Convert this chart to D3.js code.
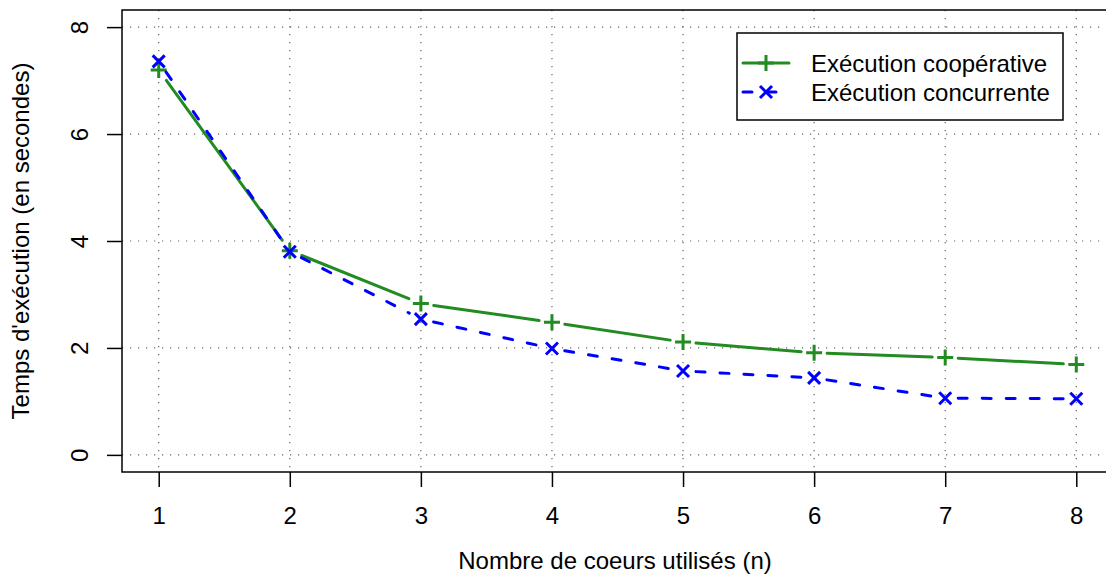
<!DOCTYPE html>
<html>
<head>
<meta charset="utf-8">
<script src="https://cdn.jsdelivr.net/npm/d3@7"></script>
<style>
  body { margin: 0; background: #fff; }
  svg text { font-family: "Liberation Sans", Arial, sans-serif; fill: #000; }
</style>
</head>
<body>
<div id="chart"></div>
<script>
// data
var cores = [1, 2, 3, 4, 5, 6, 7, 8];
var coopTimes = [7.2, 3.82, 2.83, 2.48, 2.11, 1.91, 1.82, 1.69];
var concTimes = [7.36, 3.8, 2.54, 1.99, 1.57, 1.44, 1.06, 1.05];
var xTicks = [1, 2, 3, 4, 5, 6, 7, 8];
var yTicks = [0, 2, 4, 6, 8];
var seriesNames = ["Exécution coopérative", "Exécution concurrente"];

var svgWidth = 1106;
var svgHeight = 588;
var fontSize = "24px";

// plot box (the right edge runs past the picture)
var box = { left: 122, top: 10, right: 1113, bottom: 472 };

var svg = d3.select("#chart")
  .append("svg")
  .attr("width", svgWidth)
  .attr("height", svgHeight);

// scales with R's 4% padding
var xScale = d3.scaleLinear()
  .domain([1 - 0.28, 8 + 0.28])
  .range([box.left, box.right]);

var yScale = d3.scaleLinear()
  .domain([0 - 0.32, 8 + 0.32])
  .range([box.bottom, box.top]);

// dotted grid
var grid = svg.append("g")
  .attr("stroke", "#666")
  .attr("stroke-width", 1.2)
  .attr("stroke-dasharray", "1.2,6.8");

grid.selectAll(".vgrid")
  .data(xTicks)
  .enter()
  .append("line")
  .attr("x1", d => xScale(d))
  .attr("x2", d => xScale(d))
  .attr("y1", box.top)
  .attr("y2", box.bottom);

grid.selectAll(".hgrid")
  .data(yTicks)
  .enter()
  .append("line")
  .attr("x1", box.left)
  .attr("x2", box.right)
  .attr("y1", d => yScale(d))
  .attr("y2", d => yScale(d));

// axes
var xAxis = d3.axisBottom(xScale)
  .tickValues(xTicks)
  .tickSize(15)
  .tickPadding(20)
  .tickFormat(d3.format("d"));

var yAxis = d3.axisLeft(yScale)
  .tickValues(yTicks)
  .tickSize(15)
  .tickFormat(d3.format("d"));

var xAxisG = svg.append("g")
  .attr("transform", `translate(0, ${box.bottom})`)
  .call(xAxis);
xAxisG.select(".domain").remove();
xAxisG.selectAll("line").attr("stroke", "#000").attr("stroke-width", 1.5);
xAxisG.selectAll("text")
  .attr("font-size", fontSize)
  .attr("font-family", "Liberation Sans, Arial, sans-serif");

var yAxisG = svg.append("g")
  .attr("transform", `translate(${box.left}, 0)`)
  .call(yAxis);
yAxisG.select(".domain").remove();
yAxisG.selectAll("line").attr("stroke", "#000").attr("stroke-width", 1.5);
yAxisG.selectAll("text")
  .attr("font-size", fontSize)
  .attr("font-family", "Liberation Sans, Arial, sans-serif")
  .attr("text-anchor", "middle")
  .attr("dy", 0)
  .attr("x", 0)
  .attr("transform", "translate(-34, 0) rotate(-90)");

// box
svg.append("rect")
  .attr("x", box.left)
  .attr("y", box.top)
  .attr("width", box.right - box.left)
  .attr("height", box.bottom - box.top)
  .attr("fill", "none")
  .attr("stroke", "#000")
  .attr("stroke-width", 1.5);

// axis titles
svg.append("text")
  .attr("x", 615)
  .attr("y", 569)
  .attr("text-anchor", "middle")
  .attr("font-size", fontSize)
  .text("Nombre de coeurs utilisés (n)");

svg.append("text")
  .attr("transform", `translate(29, ${(box.top + box.bottom) / 2}) rotate(-90)`)
  .attr("text-anchor", "middle")
  .attr("font-size", fontSize)
  .text("Temps d'exécution (en secondes)");

// lines drawn as in type "b": segments stop short of the points
var gap = 13;
function segments(values) {
  var segs = [];
  for (var i = 0; i < values.length - 1; i++) {
    var x1 = xScale(cores[i]), y1 = yScale(values[i]);
    var x2 = xScale(cores[i + 1]), y2 = yScale(values[i + 1]);
    var len = Math.sqrt((x2 - x1) * (x2 - x1) + (y2 - y1) * (y2 - y1));
    var ux = (x2 - x1) / len, uy = (y2 - y1) / len;
    segs.push({ x1: x1 + ux * gap, y1: y1 + uy * gap, x2: x2 - ux * gap, y2: y2 - uy * gap });
  }
  return segs;
}

function plus(g, cx, cy, color) {
  g.append("path")
    .attr("d", `M${cx - 8},${cy}H${cx + 8}M${cx},${cy - 8}V${cy + 8}`)
    .attr("stroke", color)
    .attr("stroke-width", 3)
    .attr("fill", "none");
}

function cross(g, cx, cy, color) {
  g.append("path")
    .attr("d", `M${cx - 6},${cy - 6}L${cx + 6},${cy + 6}M${cx - 6},${cy + 6}L${cx + 6},${cy - 6}`)
    .attr("stroke", color)
    .attr("stroke-width", 3)
    .attr("fill", "none");
}

// green series
var coopG = svg.append("g");
coopG.selectAll("line")
  .data(segments(coopTimes))
  .enter()
  .append("line")
  .attr("x1", d => d.x1).attr("y1", d => d.y1)
  .attr("x2", d => d.x2).attr("y2", d => d.y2)
  .attr("stroke", "#228B22")
  .attr("stroke-width", 3)
  .attr("stroke-linecap", "round");
coopTimes.forEach(function(v, i) {
  plus(coopG, xScale(cores[i]), yScale(v), "#228B22");
});

// blue series
var concG = svg.append("g");
concG.selectAll("line")
  .data(segments(concTimes))
  .enter()
  .append("line")
  .attr("x1", d => d.x1).attr("y1", d => d.y1)
  .attr("x2", d => d.x2).attr("y2", d => d.y2)
  .attr("stroke", "#0000FF")
  .attr("stroke-width", 3)
  .attr("stroke-linecap", "round")
  .attr("stroke-dasharray", "9,15");
concTimes.forEach(function(v, i) {
  cross(concG, xScale(cores[i]), yScale(v), "#0000FF");
});

// legend
var legend = svg.append("g");
legend.append("rect")
  .attr("x", 737)
  .attr("y", 33)
  .attr("width", 326)
  .attr("height", 87)
  .attr("fill", "#fff")
  .attr("stroke", "#000")
  .attr("stroke-width", 1.5);

var rowY = [63, 92];
legend.append("line")
  .attr("x1", 743).attr("x2", 789)
  .attr("y1", rowY[0]).attr("y2", rowY[0])
  .attr("stroke", "#228B22")
  .attr("stroke-width", 3)
  .attr("stroke-linecap", "round");
plus(legend, 766, rowY[0], "#228B22");

legend.append("line")
  .attr("x1", 743).attr("x2", 789)
  .attr("y1", rowY[1]).attr("y2", rowY[1])
  .attr("stroke", "#0000FF")
  .attr("stroke-width", 3)
  .attr("stroke-linecap", "round")
  .attr("stroke-dasharray", "9,15");
cross(legend, 766, rowY[1], "#0000FF");

legend.selectAll(".label")
  .data(seriesNames)
  .enter()
  .append("text")
  .attr("x", 811)
  .attr("y", (d, i) => rowY[i] + 9)
  .attr("font-size", fontSize)
  .text(d => d);
</script>
</body>
</html>
